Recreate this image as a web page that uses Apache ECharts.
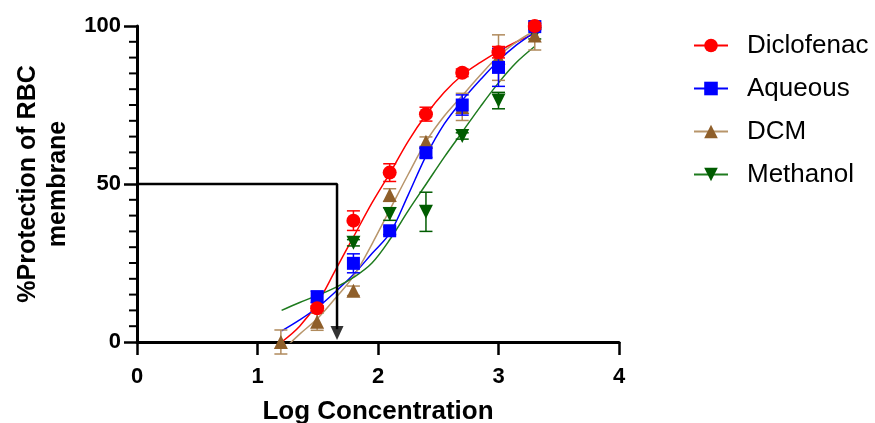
<!DOCTYPE html>
<html><head><meta charset="utf-8">
<script src="https://cdn.jsdelivr.net/npm/echarts/dist/echarts.min.js"></script>
<style>html,body{margin:0;padding:0;background:#fff}#c{width:875px;height:423px}</style>
</head><body><div id="c"></div>
<script>
// ---- data ----
const seriesNames = ['Diclofenac', 'Aqueous', 'DCM', 'Methanol'];
const xTicks = [0, 1, 2, 3, 4];
const yTicks = [0, 50, 100];
const yMinorTicks = [5, 10, 15, 20, 25, 30, 35, 40, 45, 55, 60, 65, 70, 75, 80, 85, 90, 95];

const diclofenacX = [1.495, 1.796, 2.097, 2.398, 2.699, 3.0, 3.301];
const diclofenacY = [10.7, 38.4, 53.6, 72.1, 85.2, 91.7, 100];
const diclofenacErr = [0.8, 3.1, 2.8, 2.2, 1.2, 1.8, 1.0];

const aqueousX = [1.495, 1.796, 2.097, 2.398, 2.699, 3.0, 3.301];
const aqueousY = [14.3, 24.9, 35.2, 59.9, 75.0, 86.9, 99.8];
const aqueousErr = [1.8, 3.0, 1.2, 1.5, 3.2, 6.0, 1.0];

const dcmX = [1.194, 1.495, 1.796, 2.097, 2.398, 2.699, 3.0, 3.301];
const dcmY = [0, 6.4, 16.2, 46.5, 63.4, 74.4, 90.0, 97.0];
const dcmErr = [3.8, 2.7, 1.5, 2.0, 1.5, 4.3, 7.2, 4.6];

const methanolX = [1.796, 2.097, 2.398, 2.699, 3.0, 3.301];
const methanolY = [31.4, 40.5, 41.2, 65.2, 76.4, 97.5];
const methanolErr = [1.0, 2.0, 6.2, 1.0, 2.6, 1.6];

// fitted curves
const curveX = [1.2, 1.35, 1.5, 1.65, 1.8, 1.95, 2.1, 2.25, 2.4, 2.55, 2.7, 2.85, 3.0, 3.15, 3.3];
const diclofenacCurve = [0, 5, 12.5, 23, 33.5, 44, 53.5, 63.5, 72, 79, 84.5, 88.5, 92, 95, 97.5];
const aqueousCurve = [3.5, 7, 11, 16, 21.5, 28, 34.5, 46.5, 59, 69, 76.5, 83, 89, 94, 98];
const dcmCurve = [-3, 2.5, 7.5, 14, 21, 31, 42, 53, 63.5, 71.5, 78, 84.5, 90.5, 95, 98.5];
const methanolCurve = [10, 12.5, 14.8, 17.3, 20.5, 25, 32.5, 41.5, 50, 58.5, 66.5, 74.5, 82, 88.5, 93.5];

// IC50 guide line
const ic50X = [0, 1.66, 1.66];
const ic50Y = [50, 50, 4];
const arrowX = [1.66];
const arrowY = [2.85];

// ---- styles ----
const FONT = 'Liberation Sans';
const styles = {
  Diclofenac: { marker: '#ff0000', line: '#ff0000', bar: '#ff0000', symbol: 'circle', size: 14, rotate: 0 },
  Aqueous: { marker: '#0000ff', line: '#0000ff', bar: '#0000ff', symbol: 'rect', size: 13, rotate: 0 },
  DCM: { marker: '#8f5f2a', line: '#b8956a', bar: '#b08a5c', symbol: 'triangle', size: 14, rotate: 0 },
  Methanol: { marker: '#005c00', line: '#1e7b1e', bar: '#005c00', symbol: 'triangle', size: 14, rotate: 180 }
};

const pts = {
  Diclofenac: [diclofenacX, diclofenacY, diclofenacErr, diclofenacCurve],
  Aqueous: [aqueousX, aqueousY, aqueousErr, aqueousCurve],
  DCM: [dcmX, dcmY, dcmErr, dcmCurve],
  Methanol: [methanolX, methanolY, methanolErr, methanolCurve]
};

const zip = (a, b) => a.map((v, i) => [v, b[i]]);

const series = [];
seriesNames.forEach(n => {
  const s = styles[n];
  series.push({
    name: n, type: 'line', smooth: 0.35, showSymbol: false,
    symbol: s.symbol, symbolRotate: s.rotate, symbolSize: s.size,
    data: zip(curveX, pts[n][3]),
    lineStyle: { color: s.line, width: 1.5 },
    itemStyle: { color: s.marker },
    z: 2, silent: true, animation: false
  });
});
['Methanol', 'DCM', 'Aqueous', 'Diclofenac'].forEach((n, k) => {
  const s = styles[n];
  const [xs, ys, es] = pts[n];
  series.push({
    name: n, type: 'custom', z: 3 + k * 2, animation: false, silent: true,
    data: xs.map((x, i) => [x, ys[i], es[i]]),
    renderItem: (params, api) => {
      const x = api.value(0), y = api.value(1), e = api.value(2);
      const lo = api.coord([x, y - e]);
      const hi = api.coord([x, y + e]);
      const w = 6.5;
      const st = { stroke: s.bar, lineWidth: 1.5 };
      return {
        type: 'group', children: [
          { type: 'line', shape: { x1: lo[0], y1: lo[1], x2: hi[0], y2: hi[1] }, style: st },
          { type: 'line', shape: { x1: lo[0] - w, y1: lo[1], x2: lo[0] + w, y2: lo[1] }, style: st },
          { type: 'line', shape: { x1: hi[0] - w, y1: hi[1], x2: hi[0] + w, y2: hi[1] }, style: st }
        ]
      };
    },
    clip: false
  });
  series.push({
    name: n, type: 'scatter', z: 4 + k * 2, animation: false, silent: true,
    symbol: s.symbol, symbolSize: s.size, symbolRotate: s.rotate,
    data: zip(xs, ys),
    itemStyle: { color: s.marker, opacity: 1 }
  });
});
series.push({
  type: 'line', data: zip(ic50X, ic50Y), showSymbol: false, symbol: 'none',
  lineStyle: { color: '#000', width: 2.5 }, z: 20, silent: true, animation: false
});
series.push({
  type: 'scatter', data: zip(arrowX, arrowY), symbol: 'triangle', symbolRotate: 180,
  symbolSize: [13, 14], itemStyle: { color: '#000' }, z: 21, silent: true, animation: false
});
// y-axis minor ticks, placed through the axis scale
series.push({
  type: 'custom', z: 30, silent: true, animation: false, clip: false,
  data: yMinorTicks.map(v => [xTicks[0], v]),
  renderItem: (params, api) => {
    const p = api.coord([api.value(0), api.value(1)]);
    return { type: 'line', shape: { x1: p[0] - 8, y1: p[1], x2: p[0], y2: p[1] }, style: { stroke: '#000', lineWidth: 2 } };
  }
});

const axisLabelStyle = { color: '#000', fontFamily: FONT, fontWeight: 'bold', fontSize: 22 };
const chart = echarts.init(document.getElementById('c'), null, { renderer: 'canvas' });
chart.setOption({
  backgroundColor: '#fff',
  animation: false,
  grid: { left: 137, right: 256, top: 26, bottom: 81, containLabel: false, outerBoundsMode: 'none' },
  legend: {
    data: seriesNames, orient: 'vertical', left: 693, top: 31, padding: 0,
    itemWidth: 34, itemHeight: 17, itemGap: 14, selectedMode: false,
    textStyle: { color: '#000', fontFamily: FONT, fontSize: 26, lineHeight: 29, padding: [0, 0, 0, 14] }
  },
  xAxis: {
    type: 'value', min: xTicks[0], max: xTicks[xTicks.length - 1], interval: 1,
    name: 'Log Concentration', nameLocation: 'middle', nameGap: 57,
    nameTextStyle: { color: '#000', fontFamily: FONT, fontWeight: 'bold', fontSize: 26 },
    axisLine: { show: true, onZero: false, lineStyle: { color: '#000', width: 3 } },
    axisTick: { show: true, inside: false, length: 13, lineStyle: { color: '#000', width: 2.5 } },
    axisLabel: Object.assign({ margin: 24 }, axisLabelStyle),
    splitLine: { show: false }
  },
  yAxis: {
    type: 'value', min: yTicks[0], max: yTicks[yTicks.length - 1], interval: 50,
    name: '%Protection of RBC\nmembrane', nameLocation: 'middle', nameGap: 63,
    nameTextStyle: { color: '#000', fontFamily: FONT, fontWeight: 'bold', fontSize: 25, lineHeight: 30, align: 'center' },
    axisLine: { show: true, onZero: false, lineStyle: { color: '#000', width: 3 } },
    axisTick: { show: true, inside: false, length: 13, lineStyle: { color: '#000', width: 2.5 } },
    axisLabel: Object.assign({ margin: 16 }, axisLabelStyle),
    splitLine: { show: false }
  },
  series: series
});
</script>
</body></html>
